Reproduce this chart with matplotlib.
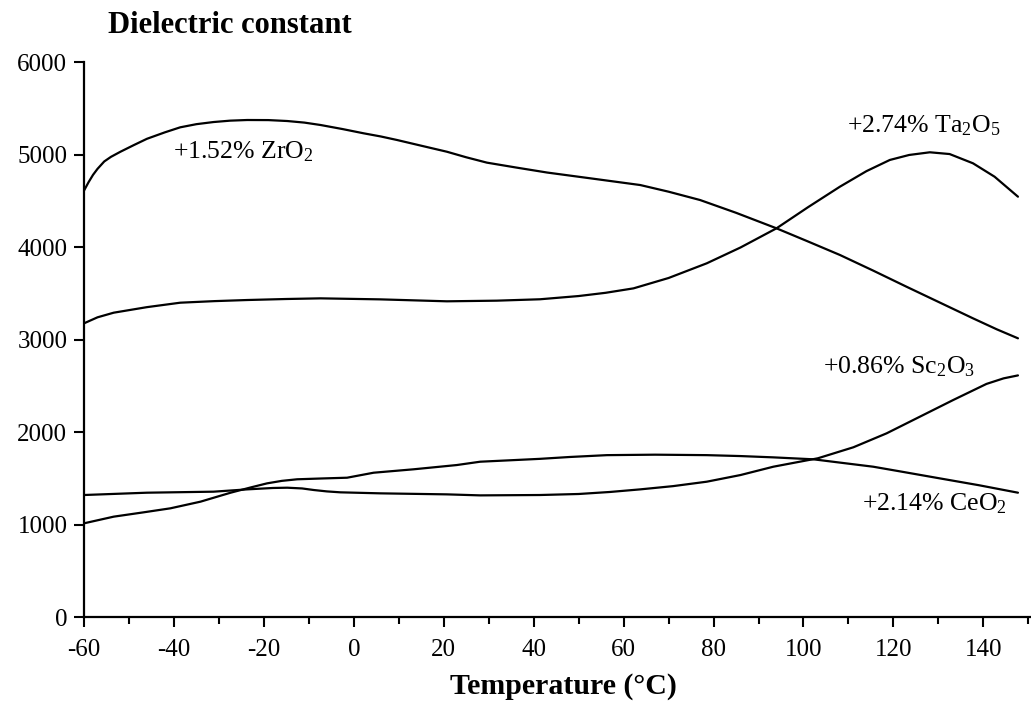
import matplotlib
matplotlib.use("Agg")
import matplotlib.pyplot as plt
from matplotlib.ticker import MultipleLocator

plt.rcParams['font.family'] = ['Liberation Serif', 'DejaVu Serif']
plt.rcParams['mathtext.fontset'] = 'custom'
plt.rcParams['mathtext.rm'] = 'Liberation Serif'
plt.rcParams['mathtext.it'] = 'Liberation Serif:italic'
plt.rcParams['mathtext.bf'] = 'Liberation Serif:bold'

# ---- data ----
zro2_t = [-60, -59, -58, -57, -55.5, -54, -51.9, -49, -46, -42, -38.6, -35, -31.2, -27.5, -23.7,
          -19, -14.8, -11, -7.4, -2.5, 2.2, 6, 9.6, 15, 20.7, 25, 29.6, 36, 43, 53, 63.7, 70,
          77, 85, 94, 101, 108.1, 115.5, 122.9, 130.3, 137.7, 143, 147.7]
zro2_v = [4610, 4700, 4780, 4845, 4925, 4975, 5030, 5100, 5170, 5240, 5294, 5328, 5351, 5366,
          5373, 5372, 5362, 5345, 5319, 5275, 5229, 5195, 5157, 5095, 5030, 4970, 4912, 4860,
          4805, 4740, 4670, 4598, 4508, 4370, 4202, 4060, 3914, 3745, 3571, 3400, 3229, 3110,
          3013]

ta2o5_t = [-60, -57, -53.4, -46, -38.6, -31, -23.7, -15, -7.4, 5.9, 20.7, 31.8, 41.4, 50,
           56, 62.2, 70, 78.5, 86, 94, 101, 108.1, 114, 119.2, 123.5, 128.1, 132.5, 137.7,
           142.5, 147.7]
ta2o5_v = [3175, 3240, 3290, 3350, 3398, 3415, 3427, 3438, 3445, 3434, 3413, 3420, 3435, 3470,
           3505, 3553, 3665, 3824, 3995, 4202, 4430, 4652, 4820, 4941, 4995, 5024, 5005, 4905,
           4760, 4544]

sc2o3_t = [-60, -46, -31.2, -23.7, -18, -14.8, -11.5, -8.9, -6, -3, 5.9, 20.7, 28.1, 41.4,
           50, 57, 63.7, 71, 78.5, 86, 93.3, 103.2, 111.1, 118.5, 125.9, 133.3, 140.7, 144.5,
           147.7]
sc2o3_v = [1319, 1344, 1355, 1380, 1395, 1398, 1390, 1373, 1358, 1348, 1337, 1326, 1315, 1319,
           1330, 1352, 1380, 1415, 1463, 1535, 1625, 1716, 1835, 1986, 2166, 2346, 2520, 2580,
           2612]

ceo2_t = [-60, -53.4, -47, -40.8, -34.1, -27.4, -23, -19.3, -16, -12.6, -7, -1.5, 4.4, 13.3,
          22.9, 28.1, 35, 41.4, 48, 56.3, 67, 78.5, 86, 93.3, 102.2, 108, 115.5, 122, 130.3,
          139, 147.7]
ceo2_v = [1013, 1085, 1130, 1175, 1247, 1344, 1400, 1445, 1472, 1489, 1498, 1506, 1560, 1597,
          1643, 1679, 1695, 1710, 1730, 1750, 1755, 1750, 1740, 1726, 1705, 1670, 1625, 1570,
          1499, 1425, 1344]

labels = [r'+1.52% ZrO$_2$', r'+2.74% Ta$_2$O$_5$', r'+0.86% Sc$_2$O$_3$', r'+2.14% CeO$_2$']
label_pos = [(-40.3, 4962), (109.7, 5243), (104.3, 2638), (113.0, 1157)]

x_ticks = list(range(-60, 141, 20))
y_ticks = list(range(0, 6001, 1000))

# ---- figure ----
fig = plt.figure(figsize=(10.31, 7.03), dpi=100)
ax = fig.add_axes([0.0815, 0.1223, 0.9185, 0.7895])

for t, v in [(zro2_t, zro2_v), (ta2o5_t, ta2o5_v), (sc2o3_t, sc2o3_v), (ceo2_t, ceo2_v)]:
    ax.plot(t, v, color='black', lw=1.6, solid_joinstyle='round', solid_capstyle='round')

for txt, (x, y) in zip(labels, label_pos):
    ax.text(x, y, txt, fontsize=18.5, ha='left', va='baseline')

ax.set_xlim(-60, 150.6)
ax.set_ylim(0, 6000)
ax.set_xticks(x_ticks)
ax.set_xticklabels([str(v) for v in x_ticks])
ax.set_yticks(y_ticks)
ax.set_yticklabels([str(v) for v in y_ticks])
ax.xaxis.set_minor_locator(MultipleLocator(10))

for s in ['top', 'right']:
    ax.spines[s].set_visible(False)
for s in ['left', 'bottom']:
    ax.spines[s].set_linewidth(1.6)

ax.tick_params(axis='both', which='major', labelsize=18, width=1.5, length=7, direction='out')
ax.tick_params(axis='x', which='minor', width=1.5, length=5, direction='out')
ax.tick_params(axis='x', pad=9)
ax.tick_params(axis='y', pad=5)

ax.set_xlabel('Temperature (°C)', fontsize=21.5, fontweight='bold')
ax.xaxis.set_label_coords(0.506, -0.1)
fig.text(0.223, 0.953, 'Dielectric constant', fontsize=22, fontweight='bold',
         ha='center', va='baseline')

fig.savefig('out.png', dpi=100)
